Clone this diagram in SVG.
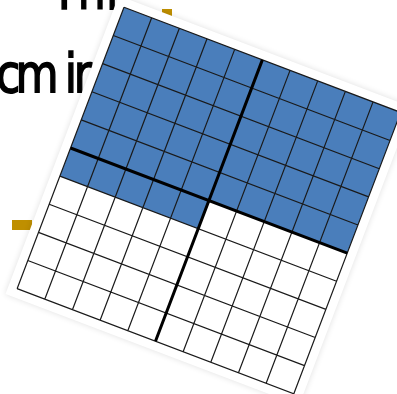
<svg xmlns="http://www.w3.org/2000/svg" width="397" height="394" viewBox="0 0 397 394">
<defs>
<style>
.txt{font-family:"Comic Sans MS","DejaVu Sans",sans-serif;font-size:54px;fill:#000;stroke:#000;stroke-width:1.6}
.gold{fill:#bf8f00}
.thin{stroke:#1a1a1a;stroke-width:1.2;fill:none}
.thick{stroke:#000;stroke-width:3;fill:none}
.blue{fill:#4a7ebb}
</style>
<filter id="sh" x="-10%" y="-10%" width="120%" height="120%">
<feGaussianBlur stdDeviation="3"/>
</filter>
</defs>
<rect width="397" height="394" fill="#fff"/>
<g id="background-text">
<text class="txt" transform="scale(0.82,1)" x="62" y="9">Thi</text>
<text class="txt" transform="scale(0.82,1)" x="-5 19 62 79 90" y="92">cm ir</text>
<rect class="gold" x="162" y="9" width="10" height="9"/>
<rect class="gold" x="12" y="220" width="20" height="10"/>
</g>
<g id="grid" transform="translate(124,7.3) rotate(20.8)">
<rect x="-9" y="-9" width="314" height="319" fill="#000" opacity="0.12" filter="url(#sh)"/>
<rect x="-9" y="-9" width="314" height="319" fill="#fff"/>
<g id="blue-area">
<rect class="blue" x="0" y="0" width="148" height="180.6"/>
<rect class="blue" x="148" y="0" width="148" height="150.5"/>
</g>
<g id="connectors">
<path class="thin" d="M0 0V301M29.6 0V301M59.2 0V301M88.8 0V301M118.4 0V301M177.6 0V301M207.2 0V301M236.8 0V301M266.4 0V301M296 0V301M0 0H296M0 30.1H296M0 60.2H296M0 90.3H296M0 120.4H296M0 180.6H296M0 210.7H296M0 240.8H296M0 270.9H296M0 301H296"/>
<path class="thick" d="M148 0V301M0 150.5H296"/>
</g>
</g>
</svg>
